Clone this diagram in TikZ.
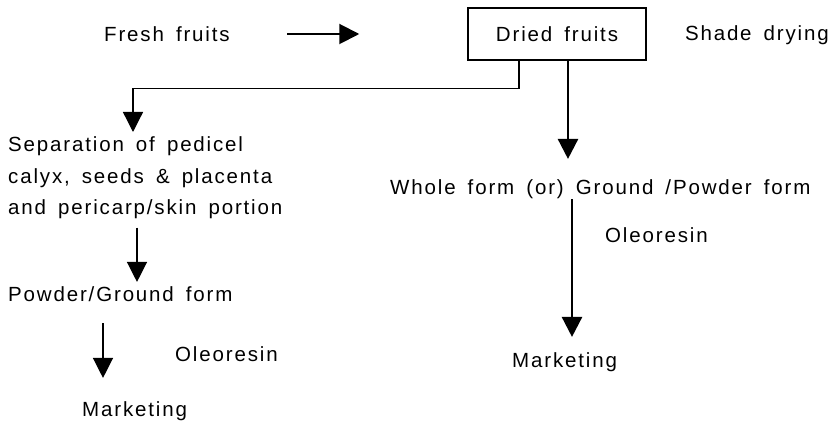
\documentclass[tikz,border=0pt]{standalone}
\usepackage{fontspec}
\setmainfont{Liberation Sans}[LetterSpace=9,WordSpace=1.6]
\usepackage{tikz}
\usetikzlibrary{arrows.meta,calc}
\tikzset{txt/.style={anchor=base west, inner sep=0pt, font=\fontsize{20.5}{31.6}\selectfont},
         box/.style={draw, line width=1.5pt, minimum width=178pt, minimum height=52pt,
                     inner sep=0pt, font=\fontsize{20.5}{24}\selectfont},
         flow/.style={line width=1.3pt, -{Triangle[width=20pt,length=20pt]}},
         thickflow/.style={flow, line width=2.5pt}}

\begin{document}
\begin{tikzpicture}[x=1pt,y=-1pt]
		\useasboundingbox (0,0) rectangle (831,422);
		% top row
		\node [txt] (fresh) at (104,42) {Fresh fruits};
		\node [box] (dried) at (557,34) {Dried fruits};
		\node [txt, anchor=base east] (shade) at (829,41) {Shade drying};
		% left branch
		\node [txt, anchor=north west, align=left] (sep) at (8,136.5)
			{Separation of pedicel\\calyx, seeds \& placenta\\and pericarp/skin portion};
		\node [txt] (powder) at (8,302) {Powder/Ground form};
		\node [txt] (oleoL) at (175,362) {Oleoresin};
		\node [txt] (markL) at (82,417) {Marketing};
		% right branch
		\node [txt] (whole) at (390,195) {Whole form (or) Ground /Powder form};
		\node [txt] (oleoR) at (605,243) {Oleoresin};
		\node [txt] (markR) at (512,367) {Marketing};
		% connectors
		\draw [flow, line width=2pt] ([xshift=-180pt]dried.west) -- ([xshift=-108pt]dried.west);
		\draw [flow] ([xshift=-38pt]dried.south) -- ++(0,28) -| ([xshift=125pt,yshift=4.5pt]sep.north west);
		\draw [thickflow, shorten >=21pt] ([xshift=11pt]dried.south) -- ([xshift=11pt]dried.south |- whole.north);
		\draw [thickflow, shorten >=15pt] ([xshift=182pt]whole.south west) -- ([xshift=182pt]whole.south west |- markR.north);
		\draw [flow, shorten >=5pt] ([xshift=129pt,yshift=-8.5pt]sep.south west) -- ([xshift=129pt]sep.south west |- powder.north);
		\draw [flow, shorten >=24pt] ([xshift=95pt,yshift=-21pt]powder.south west) -- ([xshift=95pt]powder.south west |- markL.north);
	\end{tikzpicture}
\end{document}
